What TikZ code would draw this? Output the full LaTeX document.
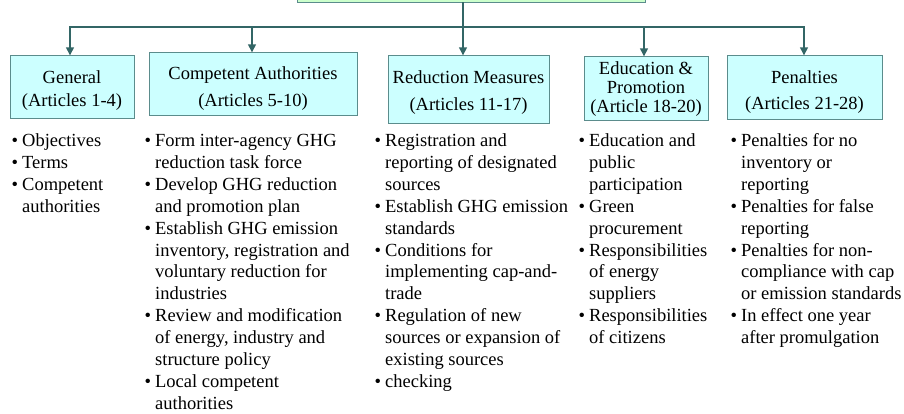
\documentclass[tikz,border=0pt]{standalone}
\usepackage{fontspec}
\setmainfont{Liberation Serif}
\usetikzlibrary{arrows.meta}

\definecolor{boxfill}{HTML}{CCFFFF}
\definecolor{topfill}{HTML}{CCFFCC}
\definecolor{boxline}{HTML}{5B8C8C}
\definecolor{linkc}{HTML}{336666}

% body size for the bullet lists
\newcommand\listfont{\fontsize{18.5}{21.9}\selectfont}

\begin{document}
\begin{tikzpicture}[x=1pt,y=-1pt,
  catbox/.style={draw=boxline, line width=1pt, fill=boxfill, inner sep=0pt},
  catlabel/.style={inner sep=0pt, align=center},
  topbox/.style={draw=boxline, line width=1pt, fill=topfill, inner sep=0pt},
  lead/.style={font=\fontsize{18.5}{#1}\selectfont},
  blist/.style={anchor=base west, inner sep=0pt, font=\listfont},
  link/.style={draw=linkc, line width=2.7pt, -{Triangle[width=7.5pt,length=8pt]}},
  busline/.style={draw=linkc, line width=2.7pt, line cap=rect}]

\useasboundingbox (0,0) rectangle (904,414);
\clip (0,0) rectangle (904,414);

% root box (only its lower edge is in view)
\node[topbox, minimum width=348, minimum height=40] (top) at (471,-17) {};

% chapter boxes
\node[catbox, minimum width=124, minimum height=63] (gen) at (72,87.5) {};
\node[catbox, minimum width=208, minimum height=63] (comp) at (253,84.5) {};
\node[catbox, minimum width=161, minimum height=68] (red) at (468.5,90) {};
\node[catbox, minimum width=124, minimum height=64] (edu) at (646,89) {};
\node[catbox, minimum width=155, minimum height=64] (pen) at (804.5,88) {};

% chapter titles
\node[catlabel, lead=23] (gen-txt) at (72,90.5) {General\\(Articles 1-4)};
\node[catlabel, lead=27] (comp-txt) at (253,88.5) {Competent Authorities\\(Articles 5-10)};
\node[catlabel, lead=27] (red-txt) at (468.5,93) {Reduction Measures\\(Articles 11-17)};
\node[catlabel, lead=19] (edu-txt) at (646,89.5) {Education \&\\Promotion\\(Article 18-20)};
\node[catlabel, lead=26] (pen-txt) at (804.5,92) {Penalties\\(Articles 21-28)};

% connectors: bus line with drops to each chapter
\foreach \n/\x in {gen/70, comp/252, red/463, edu/644, pen/804}
  \coordinate (drop-\n) at (\x,27);
\draw[busline] (drop-gen) -- (drop-pen);
\draw[busline] (top.south -| drop-red) -- (drop-red);
\foreach \n in {gen, comp, red, edu, pen}
  \draw[link] (drop-\n) -- (drop-\n |- \n.north);

% bullet lists under each chapter
\node[blist] (l-gen) at (11.5,146.5) {\begin{tabular}[t]{@{}l@{\hspace{4pt}}l@{}}
\textbullet & Objectives\\
\textbullet & Terms\\
\textbullet & Competent\\
 & authorities
\end{tabular}};

\node[blist] (l-comp) at (144.5,146.5) {\begin{tabular}[t]{@{}l@{\hspace{4pt}}l@{}}
\textbullet & Form inter-agency GHG\\
 & reduction task force\\
\textbullet & Develop GHG reduction\\
 & and promotion plan\\
\textbullet & Establish GHG emission\\
 & inventory, registration and\\
 & voluntary reduction for\\
 & industries\\
\textbullet & Review and modification\\
 & of energy, industry and\\
 & structure policy\\
\textbullet & Local competent\\
 & authorities
\end{tabular}};

\node[blist] (l-red) at (374.5,146.5) {\begin{tabular}[t]{@{}l@{\hspace{4pt}}l@{}}
\textbullet & Registration and\\
 & reporting of designated\\
 & sources\\
\textbullet & Establish GHG emission\\
 & standards\\
\textbullet & Conditions for\\
 & implementing cap-and-\\
 & trade\\
\textbullet & Regulation of new\\
 & sources or expansion of\\
 & existing sources\\
\textbullet & checking
\end{tabular}};

\node[blist] (l-edu) at (578.5,146.5) {\begin{tabular}[t]{@{}l@{\hspace{4pt}}l@{}}
\textbullet & Education and\\
 & public\\
 & participation\\
\textbullet & Green\\
 & procurement\\
\textbullet & Responsibilities\\
 & of energy\\
 & suppliers\\
\textbullet & Responsibilities\\
 & of citizens
\end{tabular}};

\node[blist] (l-pen) at (730.5,146.5) {\begin{tabular}[t]{@{}l@{\hspace{4pt}}l@{}}
\textbullet & Penalties for no\\
 & inventory or\\
 & reporting\\
\textbullet & Penalties for false\\
 & reporting\\
\textbullet & Penalties for non-\\
 & compliance with cap\\
 & or emission standards\\
\textbullet & In effect one year\\
 & after promulgation
\end{tabular}};

\end{tikzpicture}
\end{document}
